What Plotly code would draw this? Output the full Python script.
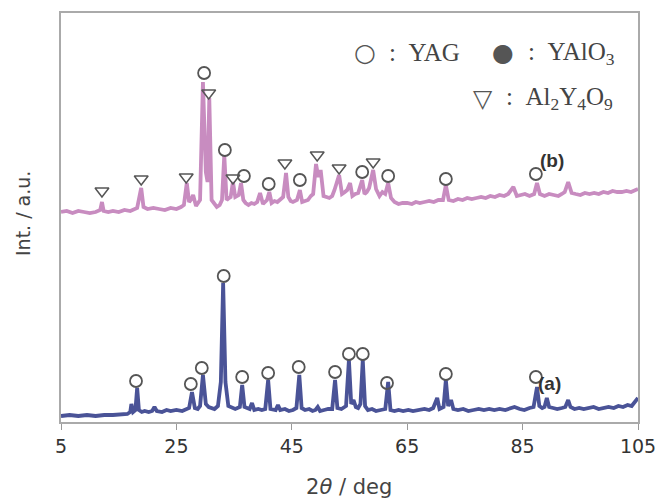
import plotly.graph_objects as go

# ---------------- data ----------------
# pattern (a): 2theta (deg) and intensity (a.u.)
two_theta_a = [5.0, 6.5, 8.0, 9.5, 11.0, 12.5, 14.0, 15.5, 16.5, 17.0, 17.2, 17.5, 17.9, 18.2, 18.5, 19.0,
               19.5, 20.2, 20.8, 21.2, 21.6, 22.5, 23.3, 24.0, 25.0, 26.0, 26.6, 27.2, 27.7, 28.2, 28.7,
               29.1, 29.6, 30.1, 30.6, 31.0, 31.6, 32.2, 32.7, 33.1, 33.5, 34.0, 34.6, 35.2, 36.0, 36.4,
               36.8, 37.3, 37.7, 38.1, 38.5, 39.2, 39.8, 40.4, 40.9, 41.3, 41.8, 42.2, 42.6, 43.0, 43.8,
               44.5, 45.2, 45.8, 46.3, 46.7, 47.3, 48.0, 48.6, 49.1, 49.5, 49.9, 50.6, 51.3, 52.0, 52.5,
               52.9, 53.6, 54.4, 54.9, 55.3, 55.7, 56.1, 56.5, 56.9, 57.3, 57.7, 58.2, 58.9, 59.6, 60.4,
               61.2, 61.7, 62.1, 62.8, 63.5, 64.3, 65.2, 66.0, 67.0, 68.0, 68.8, 69.5, 70.2, 70.6, 71.3,
               71.7, 72.1, 72.6, 73.0, 73.8, 74.7, 75.6, 76.5, 77.4, 78.3, 79.2, 80.1, 81.0, 82.0, 82.8,
               83.6, 84.5, 85.3, 86.2, 86.9, 87.5, 87.9, 88.4, 88.8, 89.2, 89.6, 90.3, 91.0, 91.8, 92.4,
               92.9, 93.3, 94.0, 94.8, 95.6, 96.5, 97.3, 98.2, 99.0, 99.9, 100.8, 101.6, 102.4, 103.2,
               103.9, 104.5, 105.0]
intensity_a = [6, 7, 6, 7, 6, 7, 7, 8, 8, 10, 18, 10, 12, 34, 12, 10,
               11, 10, 11, 15, 11, 10, 12, 11, 12, 11, 13, 14, 30, 14, 13,
               16, 47, 18, 15, 14, 13, 16, 40, 139, 40, 16, 14, 13, 15, 37,
               15, 14, 13, 19, 12, 13, 12, 13, 42, 13, 12, 12, 17, 12, 13,
               11, 12, 14, 47, 14, 12, 13, 11, 12, 15, 11, 12, 13, 13, 42,
               14, 13, 16, 62, 18, 22, 15, 14, 18, 62, 16, 12, 13, 11, 12,
               13, 40, 12, 11, 12, 11, 12, 11, 12, 13, 12, 14, 24, 13, 15,
               42, 16, 22, 13, 12, 13, 11, 12, 13, 12, 13, 12, 13, 12, 14,
               15, 13, 12, 14, 15, 35, 16, 14, 15, 24, 15, 14, 13, 14, 15,
               22, 15, 13, 14, 13, 14, 15, 13, 14, 15, 14, 16, 15, 17,
               16, 20, 24]

# pattern (b): 2theta (deg) and intensity (a.u.)
two_theta_b = [5.0, 6.0, 7.0, 8.0, 9.0, 10.0, 11.0, 11.8, 12.1, 12.4, 13.2, 14.0, 15.0, 16.0, 17.0, 17.6,
               18.2, 18.9, 19.3, 20.0, 21.0, 22.0, 23.0, 24.0, 25.0, 25.8, 26.3, 26.8, 27.2, 27.6, 27.9,
               28.4, 29.1, 29.6, 30.1, 30.4, 30.7, 31.1, 31.6, 32.0, 32.5, 32.9, 33.3, 33.7, 34.1, 34.4,
               34.8, 35.2, 35.8, 36.2, 36.6, 37.0, 37.5, 38.0, 38.5, 39.0, 39.5, 40.0, 40.7, 41.1, 41.5,
               42.0, 42.5, 43.0, 43.5, 44.0, 44.4, 44.8, 45.2, 45.9, 46.4, 46.8, 47.3, 47.8, 48.3, 48.7,
               49.2, 49.6, 50.0, 50.5, 51.0, 51.5, 52.0, 52.4, 53.2, 53.7, 54.2, 54.6, 55.1, 55.5, 56.0,
               56.5, 57.2, 57.6, 58.0, 58.4, 59.1, 59.6, 60.2, 60.7, 61.2, 61.7, 62.2, 62.8, 63.5, 64.2,
               65.0, 65.8, 66.5, 67.2, 68.0, 68.8, 69.6, 70.4, 71.2, 71.7, 72.2, 73.0, 73.8, 74.6, 75.4,
               76.2, 77.0, 77.8, 78.6, 79.4, 80.2, 81.0, 81.8, 82.5, 83.4, 84.0, 84.7, 85.4, 86.2, 87.0,
               87.5, 88.0, 88.8, 89.6, 90.4, 91.2, 91.8, 92.3, 92.9, 93.5, 94.2, 95.0, 95.8, 96.6, 97.4,
               98.2, 99.0, 99.8, 100.6, 101.4, 102.2, 103.0, 103.8, 104.5, 105.0]
intensity_b = [210, 211, 209, 211, 210, 209, 210, 212, 220, 211, 210, 211, 210, 212, 211, 213,
               214, 234, 215, 213, 214, 213, 212, 214, 213, 215, 217, 239, 220, 223, 227,
               216, 222, 340, 250, 240, 324, 222, 218, 215, 217, 222, 267, 222, 224, 225,
               240, 225, 227, 239, 222, 219, 217, 219, 218, 220, 229, 218, 222, 230, 219,
               221, 220, 223, 225, 249, 225, 221, 220, 222, 232, 220, 221, 222, 226, 228,
               258, 245, 252, 226, 225, 224, 226, 232, 247, 228, 230, 232, 239, 226, 228,
               229, 242, 228, 230, 234, 252, 233, 226, 230, 228, 239, 224, 220, 218, 219,
               219, 218, 220, 219, 220, 221, 220, 222, 222, 237, 222, 221, 223, 222, 224,
               223, 224, 225, 224, 226, 225, 227, 226, 228, 235, 226, 227, 228, 226, 228,
               239, 228, 226, 228, 227, 226, 228, 230, 240, 229, 228, 227, 229, 228, 229,
               228, 230, 229, 231, 230, 230, 231, 230, 232, 233]

# peak markers (2theta, height of marker)
yag_a_x = [18.0, 27.5, 29.4, 33.2, 36.4, 40.9, 46.2, 52.5, 54.9, 57.3, 61.5, 71.7, 87.3]
yag_a_y = [41, 38, 54, 146, 45, 49, 55, 50, 68, 68, 39, 48, 45]
yag_b_x = [29.8, 33.4, 36.7, 41.0, 46.4, 57.2, 61.7, 71.7, 87.3]
yag_b_y = [349, 272, 246, 238, 242, 250, 246, 243, 248]
al2_b_x = [12.1, 18.9, 26.7, 30.6, 34.8, 43.8, 49.4, 53.2, 59.1]
al2_b_y = [231, 243, 245, 329, 244, 259, 267, 254, 260]

tick_vals = [5, 25, 45, 65, 85, 105]
tick_text = ["5", "25", "45", "65", "85", "105"]

# ---------------- figure ----------------
PINK = "#C88CC0"
BLUE = "#4A5397"
MARK = "#555555"

fig = go.Figure()
fig.add_trace(go.Scatter(x=two_theta_b, y=intensity_b, mode="lines",
                         line=dict(color=PINK, width=3.8), showlegend=False))
fig.add_trace(go.Scatter(x=two_theta_a, y=intensity_a, mode="lines",
                         line=dict(color=BLUE, width=3.8), showlegend=False))
fig.add_trace(go.Scatter(x=yag_a_x, y=yag_a_y, mode="markers",
                         marker=dict(symbol="circle-open", size=12, color=MARK, line=dict(width=1.8)),
                         showlegend=False))
fig.add_trace(go.Scatter(x=yag_b_x, y=yag_b_y, mode="markers",
                         marker=dict(symbol="circle-open", size=12, color=MARK, line=dict(width=1.8)),
                         showlegend=False))
fig.add_trace(go.Scatter(x=al2_b_x, y=al2_b_y, mode="markers",
                         marker=dict(symbol="triangle-down-open", size=12, color=MARK, line=dict(width=1.5)),
                         showlegend=False))

L, R, T, B = 61, 19, 13, 76
W, H = 657, 498
PW, PH = W - L - R, H - T - B


def px(x):
    return (x - L) / PW


def py(y):
    return (H - B - y) / PH


NB = "\u00a0"
ann = []
serif = dict(family="Liberation Serif, Times New Roman, serif", size=25, color="#444")
sym = dict(family="DejaVu Sans", size=25, color="#555")
ann.append(dict(x=px(365), y=py(52), text="○", font=sym, xanchor="center", yanchor="middle"))
ann.append(dict(x=px(387), y=py(52), text=":" + NB + NB + "YAG", font=serif, xanchor="left", yanchor="middle"))
ann.append(dict(x=px(503), y=py(52), text="●", font=sym, xanchor="center", yanchor="middle"))
ann.append(dict(x=px(526), y=py(53), text=":" + NB + NB + "YAlO<sub>3</sub>", font=serif,
                xanchor="left", yanchor="middle"))
ann.append(dict(x=px(483), y=py(98), text="▽", font=sym, xanchor="center", yanchor="middle"))
ann.append(dict(x=px(504), y=py(99), text=":" + NB + NB + "Al<sub>2</sub>Y<sub>4</sub>O<sub>9</sub>",
                font=serif, xanchor="left", yanchor="middle"))
lab = dict(family="Liberation Sans, Arial, sans-serif", size=19, color="#333")
ann.append(dict(x=px(552), y=py(160), text="<b>(b)</b>", font=lab, xanchor="center", yanchor="middle"))
ann.append(dict(x=px(549), y=py(383), text="<b>(a)</b>", font=lab, xanchor="center", yanchor="middle"))
ann.append(dict(x=px(23), y=py(214), text="Int. / a.u.", textangle=-90,
                font=dict(family="DejaVu Sans", size=19, color="#444"), xanchor="center", yanchor="middle"))
ann.append(dict(x=px(349), y=py(487), text="2<i>θ</i> / deg",
                font=dict(family="DejaVu Sans", size=21, color="#444"), xanchor="center", yanchor="middle"))
for a in ann:
    a.update(xref="paper", yref="paper", showarrow=False)

fig.update_layout(
    width=W, height=H,
    margin=dict(l=L, r=R, t=T, b=B, autoexpand=False),
    paper_bgcolor="white", plot_bgcolor="white",
    showlegend=False,
    annotations=ann,
    xaxis=dict(range=[5, 105], tickvals=tick_vals, ticktext=tick_text, automargin=False,
               ticks="outside", ticklen=6, tickcolor="#999", tickwidth=1.2,
               showline=True, linecolor="#aaa", linewidth=1.5, mirror=True,
               showgrid=False, zeroline=False,
               tickfont=dict(family="DejaVu Sans", size=19, color="#333")),
    yaxis=dict(range=[0, 409], showticklabels=False, ticks="", automargin=False,
               showline=True, linecolor="#aaa", linewidth=1.5, mirror=True,
               showgrid=False, zeroline=False),
)

fig.write_html("out.html")
